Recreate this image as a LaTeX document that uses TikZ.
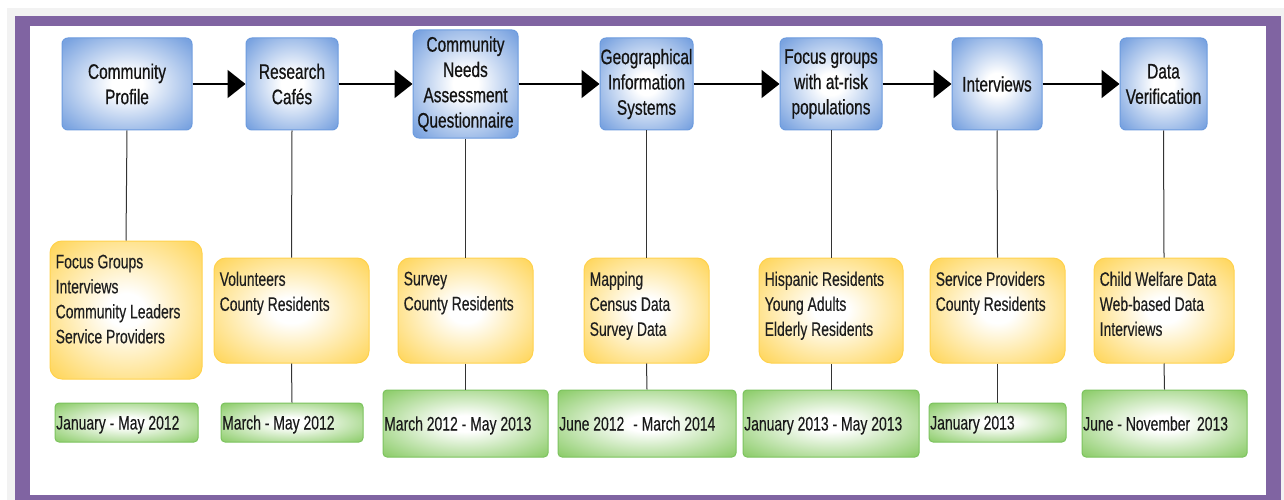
\documentclass[tikz,border=0pt]{standalone}
\usepackage{fontspec}
\newfontfamily\bfnt[FakeStretch=0.735,FakeBold=0.6]{Liberation Sans}
\newfontfamily\yfnt[FakeStretch=0.715,FakeBold=0.3]{Liberation Sans}
\usetikzlibrary{arrows.meta}
\definecolor{purp}{HTML}{8064A2}
\definecolor{bggray}{HTML}{F2F2F2}
\definecolor{bEdge}{HTML}{7AA3E0}
\definecolor{bLine}{HTML}{6C9BDE}
\definecolor{yEdge}{HTML}{FFD65C}
\definecolor{yLine}{HTML}{FFD24D}
\definecolor{gEdge}{HTML}{8ECD6C}
\definecolor{gLine}{HTML}{7CC35E}
\pgfdeclareradialshading{bglow}{\pgfpoint{0bp}{0bp}}{color(0bp)=(white); color(6bp)=(white); color(33bp)=(bEdge); color(80bp)=(bEdge)}
\pgfdeclareradialshading{yglow}{\pgfpoint{0bp}{0bp}}{color(0bp)=(white); color(6bp)=(white); color(34bp)=(yEdge); color(80bp)=(yEdge)}
\pgfdeclareradialshading{gglow}{\pgfpoint{0bp}{0bp}}{color(0bp)=(white); color(6bp)=(white); color(34bp)=(gEdge); color(80bp)=(gEdge)}
\tikzset{
  bbox/.style={shade, shading=bglow, draw=bLine, line width=1pt, rounded corners=6pt, inner sep=0pt, align=center, font=\bfnt\fontsize{21}{25.3}\selectfont, text=black!92},
  ybox/.style={shade, shading=yglow, draw=yLine, line width=1pt, rounded corners=12pt, inner sep=0pt},
  gbox/.style={shade, shading=gglow, draw=gLine, line width=1pt, rounded corners=4pt, inner sep=0pt},
  ytext/.style={anchor=north west, inner sep=0pt, align=left, font=\yfnt\fontsize{19.5}{25}\selectfont, text=black!88},
  gtext/.style={anchor=west, inner sep=0pt, text height=14pt, text depth=0pt, font=\yfnt\fontsize{19.5}{25}\selectfont, text=black!90},
  flow/.style={line width=2pt, -{Triangle[length=18pt,width=28pt]}},
  stem/.style={line width=1pt, black!80}
}
\begin{document}
\begin{tikzpicture}[x=1pt,y=-1pt]
\useasboundingbox (0,0) rectangle (1284,500);
\fill[white] (0,0) rectangle (1284,500);
\fill[bggray] (7,8) rectangle (1284,500);
\fill[purp] (15,16) rectangle (1281,500);
\fill[white] (30,26) rectangle (1266,495);

% top row
\node[bbox, minimum width=130pt, minimum height=92pt] (b1) at (127,84) {Community\\Profile};
\node[bbox, minimum width=92pt, minimum height=92pt] (b2) at (292,84) {Research\\Cafés};
\node[bbox, minimum width=105pt, minimum height=108pt] (b3) at (465.5,84) {Community\\Needs\\Assessment\\Questionnaire};
\node[bbox, minimum width=93pt, minimum height=92pt] (b4) at (646.5,84) {Geographical\\Information\\Systems};
\node[bbox, minimum width=102pt, minimum height=92pt] (b5) at (831,84) {Focus groups\\with at-risk\\populations};
\node[bbox, minimum width=90pt, minimum height=92pt] (b6) at (997,84) {Interviews};
\node[bbox, minimum width=87pt, minimum height=92pt] (b7) at (1163.5,84) {Data\\Verification};

% yellow row
\node[ybox, minimum width=152pt, minimum height=138pt] (y1) at (126,310) {};
\node[ybox, minimum width=155pt, minimum height=105pt] (y2) at (291.5,310.5) {};
\node[ybox, minimum width=135pt, minimum height=105pt] (y3) at (465.5,310.5) {};
\node[ybox, minimum width=125pt, minimum height=105pt] (y4) at (646.5,310.5) {};
\node[ybox, minimum width=144pt, minimum height=105pt] (y5) at (831,310.5) {};
\node[ybox, minimum width=135pt, minimum height=105pt] (y6) at (997.5,310.5) {};
\node[ybox, minimum width=140pt, minimum height=105pt] (y7) at (1164,310.5) {};

\node[ytext] (t1) at ([shift={(6,14)}]y1.north west) {Focus Groups\\Interviews\\Community Leaders\\Service Providers};
\node[ytext] (t2) at ([shift={(6,14)}]y2.north west) {Volunteers\\County Residents};
\node[ytext] (t3) at ([shift={(6,14)}]y3.north west) {Survey\\County Residents};
\node[ytext] (t4) at ([shift={(6,14)}]y4.north west) {Mapping\\Census Data\\Survey Data};
\node[ytext] (t5) at ([shift={(6,14)}]y5.north west) {Hispanic Residents\\Young Adults\\Elderly Residents};
\node[ytext] (t6) at ([shift={(6,14)}]y6.north west) {Service Providers\\County Residents};
\node[ytext] (t7) at ([shift={(6,14)}]y7.north west) {Child Welfare Data\\Web-based Data\\Interviews};

% green row
\node[gbox, minimum width=143pt, minimum height=39pt] (g1) at (126.5,422.5) {};
\node[gbox, minimum width=142pt, minimum height=39pt] (g2) at (292,422.5) {};
\node[gbox, minimum width=165pt, minimum height=67pt] (g3) at (465.5,423.5) {};
\node[gbox, minimum width=178pt, minimum height=67pt] (g4) at (647,423.5) {};
\node[gbox, minimum width=176pt, minimum height=67pt] (g5) at (831,423.5) {};
\node[gbox, minimum width=137pt, minimum height=39pt] (g6) at (997.5,422.5) {};
\node[gbox, minimum width=165pt, minimum height=67pt] (g7) at (1164.5,423.5) {};

\node[gtext] (d1) at ([xshift=1.5pt]g1.west) {January - May 2012};
\node[gtext] (d2) at ([xshift=1.5pt]g2.west) {March - May 2012};
\node[gtext] (d3) at ([xshift=1.5pt]g3.west) {March 2012 - May 2013};
\node[gtext] (d4) at ([xshift=1.5pt]g4.west) {June 2012\hspace{5pt} - March 2014};
\node[gtext] (d5) at ([xshift=1.5pt]g5.west) {January 2013 - May 2013};
\node[gtext] (d6) at ([xshift=1.5pt]g6.west) {January 2013};
\node[gtext] (d7) at ([xshift=1.5pt]g7.west) {June - November\hspace{3pt} 2013};

% arrows
\draw[flow] (b1.east) -- (b2.west);
\draw[flow] (b2.east) -- (b3.west);
\draw[flow] (b3.east) -- (b4.west);
\draw[flow] (b4.east) -- (b5.west);
\draw[flow] (b5.east) -- (b6.west);
\draw[flow] (b6.east) -- (b7.west);

% stems
\draw[stem] (b1.south) -- (y1.north);
\draw[stem] (b2.south) -- (y2.north);
\draw[stem] (b3.south) -- (y3.north);
\draw[stem] (b4.south) -- (y4.north);
\draw[stem] (b5.south) -- (y5.north);
\draw[stem] (b6.south) -- (y6.north);
\draw[stem] (b7.south) -- (y7.north);
\draw[stem] (y2.south) -- (g2.north);
\draw[stem] (y3.south) -- (g3.north);
\draw[stem] (y4.south) -- (g4.north);
\draw[stem] (y5.south) -- (g5.north);
\draw[stem] (y6.south) -- (g6.north);
\draw[stem] (y7.south) -- (g7.north);
\end{tikzpicture}
\end{document}
